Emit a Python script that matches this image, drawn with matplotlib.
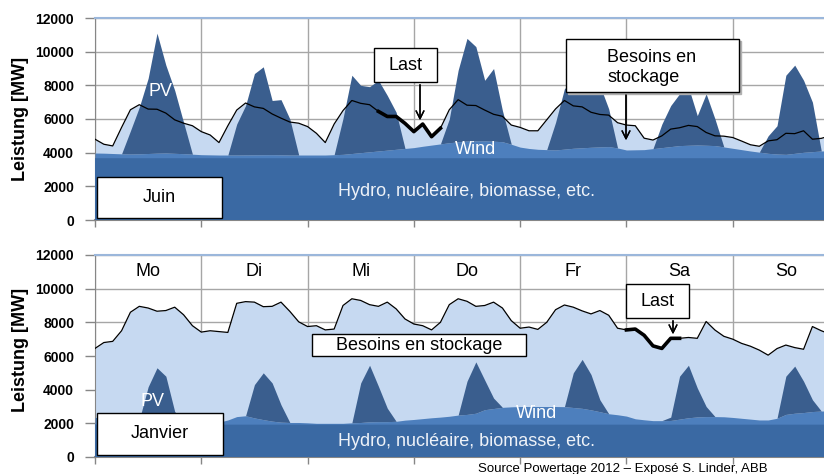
import matplotlib.pyplot as plt
import numpy as np
from matplotlib.patches import Rectangle

plt.rcParams['font.family'] = ['Liberation Sans', 'DejaVu Sans']

# time grid: one value every 2 hours over one week
hours = np.arange(0, 168, 2)
days = ['Mo', 'Di', 'Mi', 'Do', 'Fr', 'Sa', 'So']
yticks = [0, 2000, 4000, 6000, 8000, 10000, 12000]

# June week (MW)
juin_hydro = 3700
juin_load = [
    4800, 4500, 4400, 5500, 6550, 6850, 6590, 6580, 6350, 5950, 5750, 5600,
    5250, 5050, 4600, 5600, 6530, 6950, 6720, 6630, 6300, 6050, 5820, 5750,
    5550, 5150, 4600, 5700, 6500, 7100, 6930, 6850, 6450, 6150, 6150, 5740,
    5250, 5700, 4950, 5450, 6550, 7150, 6820, 6800, 6530, 6280, 6160, 5640,
    5500, 5300, 5300, 5950, 6600, 7100, 6780, 6720, 6400, 6270, 6230, 5780,
    5640, 5600, 4860, 4750, 5000, 5400, 5480, 5620, 5550, 5200, 5000, 4980,
    4900, 4690, 4470, 4380, 4700, 4770, 5150, 5130, 5300, 4800, 4850, 5000]
juin_wind = [
    280, 270, 250, 230, 220, 230, 250, 270, 280, 260, 240, 210,
    180, 170, 160, 160, 160, 165, 170, 175, 180, 170, 160, 160,
    160, 160, 160, 180, 200, 250, 300, 350, 400, 450, 500, 550,
    600, 680, 750, 820, 890, 940, 990, 1000, 1000, 980, 950, 800,
    630, 550, 500, 480, 460, 510, 560, 590, 620, 640, 660, 580,
    460, 470, 480, 540, 600, 660, 720, 740, 755, 740, 720, 640,
    560, 480, 400, 330, 260, 220, 200, 260, 320, 360, 400, 410]
juin_pv = [
    0, 0, 0, 0, 1380, 2770, 4470, 7130, 5220, 3740, 1860, 0,
    0, 0, 0, 0, 1840, 2935, 4830, 5225, 3220, 3280, 2140, 0,
    0, 0, 0, 0, 2140, 4650, 4000, 3870, 4200, 3250, 2200, 0,
    0, 0, 0, 0, 1410, 4260, 6100, 5600, 3600, 4320, 1850, 0,
    0, 0, 0, 0, 1640, 3590, 4040, 4010, 3880, 3660, 2240, 0,
    0, 0, 0, 0, 1400, 2440, 3080, 3460, 1745, 3060, 1580, 0,
    0, 0, 0, 0, 1040, 1680, 4700, 5240, 4280, 2940, 0, 0]

# January week (MW)
jan_hydro = 1950
jan_load = [
    6450, 6800, 6870, 7500, 8600, 8950, 8850, 8660, 8700, 8900, 8450, 7800,
    7420, 7500, 7450, 7400, 9130, 9230, 9200, 8930, 8950, 9200, 8650, 8030,
    7750, 7800, 7550, 7600, 9000, 9400, 9300, 9050, 8950, 9200, 8800, 8200,
    7900, 7800, 7550, 8000, 9050, 9400, 9250, 8950, 9000, 9200, 8850, 8100,
    7650, 7720, 7580, 8000, 8750, 9030, 8900, 8680, 8500, 8700, 8420, 7650,
    7550, 7600, 7230, 6600, 6450, 7050, 7050, 7100, 7050, 8050, 7540, 7170,
    7000, 6750, 6580, 6350, 6050, 6440, 6650, 6500, 6400, 7750, 7500, 7300]
jan_wind = [
    400, 400, 380, 350, 300, 260, 220, 200, 180, 160, 140, 120,
    110, 100, 120, 250, 450, 500, 370, 270, 180, 120, 100, 100,
    80, 50, 50, 50, 50, 80, 100, 140, 150, 150, 170, 240,
    280, 330, 380, 420, 470, 540, 580, 650, 860, 930, 1000, 1030,
    1050, 1050, 1050, 1050, 1050, 1040, 990, 940, 850, 740, 620, 560,
    480, 320, 260, 210, 210, 220, 300, 380, 430, 450, 450, 440,
    400, 350, 300, 250, 250, 350, 580, 650, 690, 750, 780, 790]
jan_pv = [
    0, 0, 0, 0, 0, 0, 2000, 3150, 2670, 590, 0, 0,
    0, 0, 0, 0, 0, 0, 1980, 2780, 2270, 1030, 0, 0,
    0, 0, 0, 0, 0, 0, 2350, 3360, 2100, 800, 0, 0,
    0, 0, 0, 0, 0, 0, 1970, 3050, 1760, 620, 0, 0,
    0, 0, 0, 0, 0, 0, 2060, 2910, 2100, 710, 0, 0,
    0, 0, 0, 0, 0, 200, 2550, 3120, 1720, 600, 0, 0,
    0, 0, 0, 0, 0, 0, 2270, 2800, 1860, 700, 0, 0]

LIGHT = '#C6D9F1'
HYDRO = '#3A69A3'
WIND = '#4D7FBD'
PVC = '#3A5E8E'

W, H = 824, 474


def fx(x):
    return x / W


def fy(y):
    return 1 - y / H


def panel(ax, load, hydro, wind, pv, last):
    load = np.array(load)
    base = np.full(len(hours), hydro)
    top_w = base + np.array(wind)
    ax.fill_between(hours, 0, load, color=LIGHT, lw=0, zorder=2)
    ax.fill_between(hours, 0, base, color=HYDRO, lw=0, zorder=3)
    ax.fill_between(hours, base, top_w, color=WIND, lw=0, zorder=3)
    ax.fill_between(hours, top_w, top_w + np.array(pv), color=PVC, lw=0, zorder=3)
    ax.plot(hours, load, color='black', lw=0.9, zorder=4)
    a, b = last
    ax.plot(hours[a:b], load[a:b], color='black', lw=2.6, zorder=5)

    ax.set_xlim(0, 168)
    ax.set_ylim(0, 12000)
    ax.set_xticks(np.arange(0, 169, 24))
    ax.set_xticklabels([])
    ax.set_yticks(yticks)
    ax.set_yticklabels([str(v) for v in yticks], fontweight='bold', fontsize=10)
    ax.set_axisbelow(True)
    ax.grid(True, color='#A6A6A6', lw=1)
    ax.tick_params(axis='y', length=7, width=1, color='#868686', pad=8)
    ax.tick_params(axis='x', length=5, width=1, color='#868686')
    ax.spines['left'].set_color('#868686')
    ax.spines['bottom'].set_color('#868686')
    ax.spines['bottom'].set_linewidth(1.5)
    ax.spines['top'].set_color('#9BB7DB')
    ax.spines['top'].set_linewidth(1.5)
    ax.spines['right'].set_visible(False)


def box(x0, y0, x1, y1, shadow=False):
    if shadow:
        fig.patches.append(Rectangle((fx(x0 + 2), fy(y1 + 2)), (x1 - x0) / W, (y1 - y0) / H,
                                     transform=fig.transFigure, color='#B0B0B0', zorder=9))
    fig.patches.append(Rectangle((fx(x0), fy(y1)), (x1 - x0) / W, (y1 - y0) / H,
                                 transform=fig.transFigure, facecolor='white',
                                 edgecolor='black', lw=1, zorder=10))


def label(x, y, s, **kw):
    kw.setdefault('fontsize', 13)
    kw.setdefault('ha', 'center')
    fig.text(fx(x), fy(y), s, va='center', zorder=11, **kw)


def arrow(x, y0, y1):
    fig.add_artist(plt.annotate('', xy=(fx(x), fy(y1)), xytext=(fx(x), fy(y0)),
                                xycoords='figure fraction',
                                arrowprops=dict(arrowstyle='->', color='black', lw=1,
                                                mutation_scale=14), zorder=11))


fig = plt.figure(figsize=(W / 100, H / 100), dpi=100)
ax1 = fig.add_axes([fx(95), fy(220), 744 / W, 202 / H])
ax2 = fig.add_axes([fx(95), fy(457), 744 / W, 202 / H])

panel(ax1, juin_load, juin_hydro, juin_wind, juin_pv, (32, 40))
panel(ax2, jan_load, jan_hydro, jan_wind, jan_pv, (60, 67))

for i, d in enumerate(days):
    ax2.text(i * 24 + 12, 11000, d, ha='center', va='center', fontsize=13, zorder=6)

for y in (119, 350):
    fig.text(fx(21), fy(y), 'Leistung [MW]', rotation=90, fontsize=13,
             fontweight='bold', ha='center', va='center')

# June annotations
label(160, 92, 'PV', color='white')
label(476, 150, 'Wind', color='white')
label(466, 192, 'Hydro, nucléaire, biomasse, etc.', color='#EEF2F8')
box(97, 177, 222, 218)
label(159, 198, 'Juin')
box(374, 48, 437, 82)
label(405, 65, 'Last')
arrow(420, 82, 123)
box(566, 39, 739, 92, shadow=True)
label(607, 57, 'Besoins en', ha='left')
label(607, 78, 'stockage', ha='left')
arrow(626, 92, 143)

# January annotations
label(153, 402, 'PV', color='white')
label(537, 413, 'Wind', color='white')
label(466, 441, 'Hydro, nucléaire, biomasse, etc.', color='#EEF2F8')
box(97, 413, 223, 455)
label(160, 434, 'Janvier')
box(312, 334, 526, 356)
label(419, 345, 'Besoins en stockage')
box(626, 284, 689, 318)
label(657, 301, 'Last')
arrow(673, 318, 337)

fig.text(fx(768), fy(469), 'Source Powertage 2012 – Exposé S. Linder, ABB',
         ha='right', va='center', fontsize=9.5)

fig.savefig('out.png', dpi=100)
